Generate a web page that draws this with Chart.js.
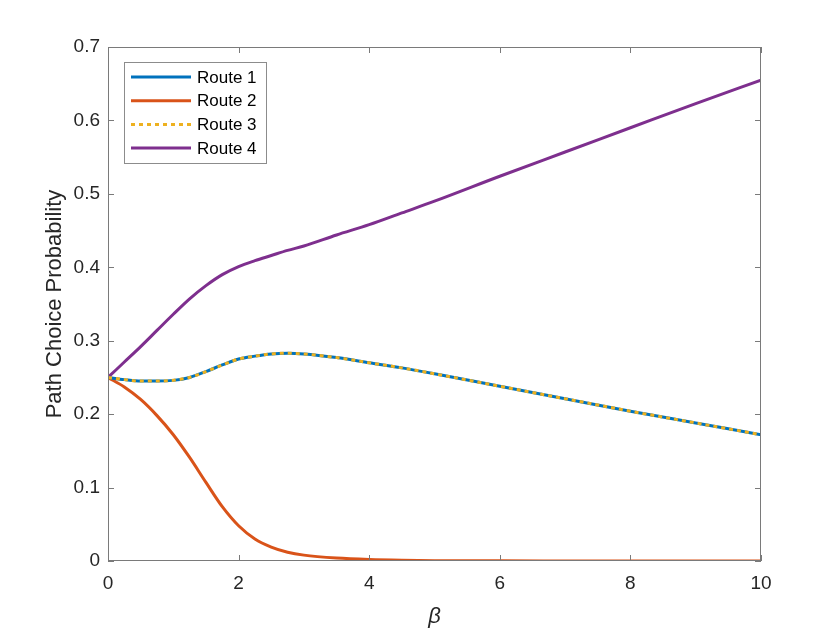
<!DOCTYPE html>
<html><head><meta charset="utf-8">
<script src="https://cdn.jsdelivr.net/npm/chart.js@4"></script>
<style>html,body{margin:0;padding:0;background:#fff}#wrap{width:840px;height:630px}</style>
</head><body><div id="wrap"><canvas id="c" width="840" height="630"></canvas></div>
<script>
const betaValues = [0,0.25,0.5,0.75,1,1.25,1.5,1.75,2,2.25,2.5,2.75,3,3.5,4,4.5,5,6,7,8,9,10];
const route1 = [0.25,0.247,0.245,0.245,0.246,0.250,0.258,0.267,0.275,0.279,0.282,0.283,0.282,0.277,0.270,0.263,0.255,0.238,0.221,0.204,0.188,0.172];
const route2 = [0.25,0.237,0.220,0.198,0.172,0.141,0.107,0.074,0.048,0.030,0.019,0.012,0.008,0.004,0.002,0.001,0.0005,0.0002,0.0001,0.0,0.0,0.0];
const route3 = route1.slice();
const route4 = [0.25,0.271,0.292,0.314,0.336,0.357,0.375,0.390,0.401,0.409,0.416,0.423,0.429,0.444,0.458,0.474,0.490,0.524,0.557,0.590,0.623,0.655];
const seriesNames = ['Route 1','Route 2','Route 3','Route 4'];
const xTicks = [0,2,4,6,8,10];
const yTicks = [0,0.1,0.2,0.3,0.4,0.5,0.6,0.7];

const colors = ['#0072BD','#D95319','#EDB120','#7E2F8E'];
const allSeries = [route1, route2, route3, route4];
const FONT = '"Liberation Sans", Arial, sans-serif';
const TXT = '#262626';
const AX = '#7a7a7a';

const datasets = allSeries.map((s,i)=>({
  label: seriesNames[i],
  data: betaValues.map((b,j)=>({x:b,y:s[j]})),
  borderColor: colors[i],
  backgroundColor: colors[i],
  borderWidth: 3,
  pointRadius: 0,
  fill: false,
  cubicInterpolationMode: 'monotone',
  borderDash: i===2 ? [4,4] : [],
  order: i===2 ? 0 : (i+1)
}));

const boxPlugin = {
  id:'box',
  afterDraw(chart){
    const {ctx, chartArea:a, scales} = chart;
    ctx.save();
    ctx.strokeStyle = AX; ctx.lineWidth = 1;
    ctx.strokeRect(a.left+0.5, a.top+0.5, a.right-a.left-1, a.bottom-a.top-1);
    const L = 6;
    ctx.beginPath();
    xTicks.forEach(v=>{
      const px = Math.round(scales.x.getPixelForValue(v))+0.5;
      ctx.moveTo(px,a.bottom); ctx.lineTo(px,a.bottom-L);
      ctx.moveTo(px,a.top); ctx.lineTo(px,a.top+L);
    });
    yTicks.forEach(v=>{
      const py = Math.round(scales.y.getPixelForValue(v))+0.5;
      ctx.moveTo(a.left,py); ctx.lineTo(a.left+L,py);
      ctx.moveTo(a.right,py); ctx.lineTo(a.right-L,py);
    });
    ctx.stroke();
    // legend
    const lx=124, ly=62, lw=142, lh=101;
    ctx.fillStyle='#fff';
    ctx.fillRect(lx,ly,lw,lh);
    ctx.strokeStyle='#8c8c8c';
    ctx.lineWidth=1;
    ctx.strokeRect(lx+0.5,ly+0.5,lw,lh);
    ctx.font = '17px '+FONT;
    ctx.textBaseline='middle';
    chart.data.datasets.forEach((d,i)=>{
      const y = ly+15+i*23.7;
      ctx.lineWidth=3;
      ctx.strokeStyle=d.borderColor;
      ctx.setLineDash(d.borderDash||[]);
      ctx.beginPath(); ctx.moveTo(131,y); ctx.lineTo(191,y); ctx.stroke();
      ctx.setLineDash([]);
      ctx.fillStyle='#000';
      ctx.fillText(d.label,197,y+1);
    });
    ctx.restore();
  }
};

new Chart(document.getElementById('c'),{
  type:'line',
  data:{datasets},
  plugins:[boxPlugin],
  options:{
    responsive:false, animation:false,
    layout:{padding:{top:47,right:79,left:0,bottom:0}},
    plugins:{legend:{display:false},tooltip:{enabled:false}},
    scales:{
      x:{type:'linear',min:0,max:10,
        afterBuildTicks:s=>{s.ticks=xTicks.map(v=>({value:v}));},
        afterFit:s=>{s.height=69;},
        grid:{display:false,drawTicks:false},border:{display:false},
        ticks:{color:TXT,font:{family:FONT,size:19},padding:11,maxRotation:0},
        title:{display:true,text:'β',color:TXT,font:{family:FONT,size:22,style:'italic'},padding:{top:11,bottom:0}}
      },
      y:{type:'linear',min:0,max:0.7,
        afterBuildTicks:s=>{s.ticks=yTicks.map(v=>({value:v}));},
        afterFit:s=>{s.width=108;},
        grid:{display:false,drawTicks:false},border:{display:false},
        ticks:{color:TXT,font:{family:FONT,size:19},padding:8,callback:v=>String(+v.toFixed(1))},
        title:{display:true,text:'Path Choice Probability',color:TXT,font:{family:FONT,size:22},padding:{top:42,bottom:0}}
      }
    }
  }
});
</script></body></html>
